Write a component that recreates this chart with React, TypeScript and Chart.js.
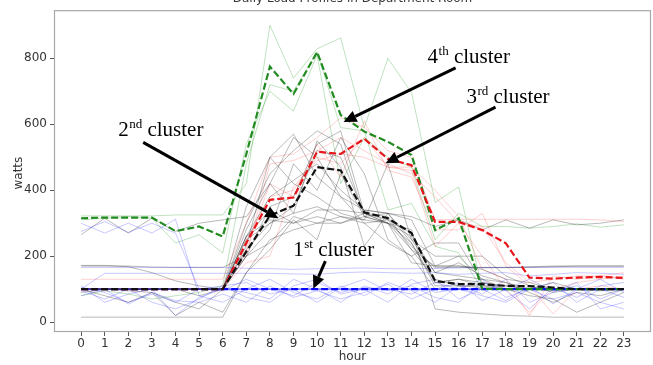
import React, { useEffect, useRef } from 'react';
import { Chart, registerables } from 'chart.js';

Chart.register(...registerables);

// ---------- data ----------
const hours = [0, 1, 2, 3, 4, 5, 6, 7, 8, 9, 10, 11, 12, 13, 14, 15, 16, 17, 18, 19, 20, 21, 22, 23];
const yTicks = [0, 200, 400, 600, 800];
const chartTitle = 'Daily Load Profiles in Department Room';
const xTitle = 'hour';
const yTitle = 'watts';

// cluster centroids (dashed)
const centroidBlue = [100, 100, 100, 100, 100, 100, 100, 100, 100, 100, 100, 100, 100, 100, 100, 100, 100, 100, 100, 100, 100, 100, 100, 100];
const centroidBlack = [100, 100, 100, 100, 100, 100, 100, 214, 323, 353, 470, 460, 333, 315, 270, 125, 115, 115, 110, 109, 105, 100, 100, 100];
const centroidRed = [100, 100, 100, 100, 100, 100, 100, 240, 371, 378, 517, 510, 556, 495, 476, 304, 304, 279, 239, 135, 132, 135, 137, 134];
const centroidGreen = [315, 317, 317, 317, 276, 290, 260, 510, 775, 692, 819, 628, 578, 547, 507, 279, 315, 101, 100, 100, 100, 100, 100, 100];

// cluster 1 members (blue)
const blue0 = [100, 100, 100, 100, 100, 100, 100, 100, 100, 100, 100, 100, 100, 100, 100, 100, 100, 100, 100, 100, 100, 100, 100, 100];
const blue1 = [105, 90, 60, 85, 60, 100, 95, 130, 100, 80, 120, 90, 105, 100, 85, 120, 100, 80, 60, 100, 70, 90, 60, 40];
const blue2 = [100, 148, 148, 148, 148, 148, 148, 148, 148, 146, 145, 150, 152, 150, 148, 150, 145, 148, 150, 140, 145, 150, 148, 145];
const blue3 = [166, 166, 166, 166, 166, 166, 166, 163, 162, 160, 162, 163, 164, 162, 162, 163, 165, 165, 166, 166, 166, 166, 166, 166];
const blue4 = [300, 270, 300, 270, 312, 80, 60, 100, 130, 90, 70, 110, 80, 120, 95, 60, 110, 85, 130, 60, 90, 120, 40, 60];
const blue5 = [275, 305, 272, 300, 270, 100, 110, 75, 60, 110, 130, 85, 100, 60, 115, 130, 70, 100, 65, 110, 55, 100, 130, 90];
const blue6 = [95, 70, 100, 60, 40, 70, 110, 120, 85, 100, 60, 105, 130, 95, 110, 75, 60, 120, 95, 40, 105, 75, 110, 120];
const blue7 = [80, 100, 55, 90, 65, 60, 85, 60, 110, 75, 95, 70, 90, 115, 70, 100, 120, 65, 100, 130, 95, 110, 70, 100];
const blue8 = [110, 60, 85, 100, 20, 75, 100, 90, 70, 130, 100, 60, 110, 85, 130, 90, 100, 130, 75, 100, 120, 60, 100, 75];

// cluster 2 members (grey)
const grey1 = [170, 170, 170, 167, 166, 166, 166, 200, 350, 380, 540, 580, 330, 310, 230, 165, 165, 166, 166, 166, 168, 170, 170, 170];
const grey2 = [15, 15, 15, 15, 15, 15, 15, 150, 250, 280, 300, 320, 310, 300, 280, 40, 30, 25, 20, 18, 15, 15, 15, 15];
const grey3 = [265, 315, 270, 315, 275, 300, 310, 320, 420, 560, 500, 380, 340, 330, 320, 290, 310, 280, 310, 285, 310, 295, 300, 310];
const grey4 = [100, 100, 100, 100, 100, 100, 100, 300, 450, 520, 580, 540, 320, 300, 240, 110, 110, 110, 100, 100, 100, 100, 100, 100];
const grey5 = [100, 100, 95, 90, 60, 40, 100, 220, 300, 330, 350, 320, 300, 310, 270, 120, 130, 120, 110, 100, 95, 100, 100, 100];
const grey6 = [100, 80, 60, 90, 20, 60, 30, 150, 220, 310, 250, 450, 320, 330, 250, 200, 200, 200, 140, 110, 90, 100, 95, 100];
const grey7 = [100, 100, 100, 100, 100, 100, 100, 350, 500, 420, 380, 330, 310, 480, 250, 150, 180, 140, 120, 90, 60, 90, 80, 100];
const grey8 = [100, 100, 100, 100, 100, 100, 100, 250, 300, 350, 520, 500, 330, 320, 220, 130, 110, 105, 100, 100, 100, 100, 100, 100];
const grey9 = [90, 100, 100, 100, 100, 100, 100, 200, 280, 480, 400, 560, 450, 250, 200, 100, 100, 100, 100, 100, 100, 100, 100, 100];
const grey10 = [100, 100, 100, 100, 100, 100, 100, 260, 380, 430, 480, 400, 340, 330, 240, 120, 130, 110, 110, 100, 100, 100, 100, 100];
const grey11 = [100, 100, 100, 100, 100, 100, 100, 280, 420, 330, 550, 470, 230, 330, 310, 170, 170, 160, 130, 120, 100, 100, 100, 100];
const grey12 = [100, 100, 100, 100, 100, 100, 100, 200, 240, 320, 300, 300, 320, 300, 180, 170, 200, 130, 100, 80, 70, 30, 60, 90];
const grey13 = [100, 100, 100, 100, 100, 80, 100, 260, 340, 300, 340, 340, 330, 300, 260, 150, 140, 130, 120, 100, 120, 100, 100, 100];
const grey14 = [100, 100, 100, 100, 100, 100, 100, 230, 500, 570, 440, 380, 300, 240, 200, 240, 240, 120, 100, 100, 100, 100, 100, 100];
const grey15 = [172, 172, 168, 150, 125, 110, 100, 260, 310, 300, 320, 300, 330, 300, 220, 170, 170, 165, 165, 168, 170, 170, 170, 170];

// cluster 3 members (red)
const red1 = [130, 130, 130, 130, 130, 130, 130, 300, 500, 510, 560, 620, 590, 520, 500, 310, 312, 312, 312, 312, 312, 312, 310, 305];
const red2 = [100, 100, 100, 100, 100, 100, 100, 200, 480, 490, 520, 560, 520, 480, 450, 380, 300, 200, 100, 30, 100, 120, 130, 140];
const red3 = [100, 100, 100, 100, 100, 100, 100, 250, 380, 400, 500, 480, 560, 470, 460, 230, 300, 290, 180, 120, 130, 140, 140, 130];
const red4 = [100, 100, 100, 100, 100, 100, 100, 180, 200, 410, 490, 510, 500, 470, 470, 400, 320, 160, 130, 20, 140, 130, 140, 150];
const red5 = [100, 100, 100, 100, 100, 100, 100, 220, 420, 380, 540, 440, 610, 460, 440, 280, 280, 330, 170, 110, 25, 100, 110, 100];

// cluster 4 members (green)
const green1 = [322, 322, 322, 322, 325, 325, 325, 420, 900, 740, 829, 862, 590, 800, 696, 363, 410, 100, 100, 100, 100, 100, 100, 100];
const green2 = [310, 315, 320, 315, 240, 265, 210, 540, 700, 640, 810, 420, 560, 500, 470, 250, 330, 290, 290, 285, 290, 298, 288, 295];
const green3 = [80, 95, 85, 70, 80, 90, 110, 480, 720, 700, 820, 590, 580, 340, 360, 230, 210, 100, 100, 100, 100, 100, 100, 100];

// annotations (data coordinates)
const annotationNumbers = ['4', '3', '2', '1'];
const annotationSuffixes = ['th', 'rd', 'nd', 'st'];
const annotationWord = ' cluster';
const annotationTextX = [14.68, 16.33, 1.57, 8.99];
const annotationTextY = [786, 664, 565, 199];
const arrowFromX = [15.87, 17.56, 2.63, 10.35];
const arrowFromY = [771, 652, 545, 185];
const arrowToX = [11.12, 12.9, 8.36, 9.84];
const arrowToY = [607, 482, 315, 101];

const X_MIN = -1.15;
const X_MAX = 24.15;
const Y_MIN = -30;
const Y_MAX = 946;

// ---------- helpers ----------
const toPoints = (arr: number[]) => hours.map((h, i) => ({ x: h, y: arr[i] }));

const thin = (arr: number[], color: string, width = 1) => ({
  data: toPoints(arr),
  borderColor: color,
  borderWidth: width,
  pointRadius: 0,
  tension: 0,
  fill: false,
  order: 10,
});

const dashed = (arr: number[], color: string, order: number) => ({
  data: toPoints(arr),
  borderColor: color,
  borderWidth: 2.2,
  borderDash: [7, 3],
  pointRadius: 0,
  tension: 0,
  fill: false,
  order,
});

const BLUE = 'rgba(0,0,255,0.22)';
const GREY = 'rgba(40,40,40,0.32)';
const RED = 'rgba(255,40,40,0.22)';
const GREEN = 'rgba(0,140,0,0.25)';

const framePlugin = {
  id: 'frameAndText',
  afterDraw(chart: any) {
    const { ctx, chartArea, scales } = chart;
    const { left, right, top, bottom } = chartArea;
    ctx.save();
    ctx.strokeStyle = '#a8a8a8';
    ctx.lineWidth = 1.2;
    ctx.strokeRect(left + 0.5, top + 0.5, right - left - 1, bottom - top - 1);

    ctx.fillStyle = '#333';
    ctx.font = '12px "DejaVu Sans"';
    ctx.textAlign = 'center';
    ctx.textBaseline = 'alphabetic';
    ctx.fillText(chartTitle, (left + right) / 2, 2);

    ctx.textBaseline = 'middle';
    ctx.fillText(xTitle, (left + right) / 2, 357);
    ctx.save();
    ctx.translate(19, (top + bottom) / 2 + 2);
    ctx.rotate(-Math.PI / 2);
    ctx.fillText(yTitle, 0, 0);
    ctx.restore();

    const xs = scales.x;
    const ys = scales.y;
    ctx.fillStyle = '#000';
    ctx.strokeStyle = '#000';
    for (let i = 0; i < annotationNumbers.length; i++) {
      const tx = xs.getPixelForValue(annotationTextX[i]);
      const ty = ys.getPixelForValue(annotationTextY[i]);
      ctx.textAlign = 'left';
      ctx.textBaseline = 'alphabetic';
      ctx.font = '21px "Liberation Serif"';
      ctx.fillText(annotationNumbers[i], tx, ty);
      let w = ctx.measureText(annotationNumbers[i]).width;
      ctx.font = '13px "Liberation Serif"';
      ctx.fillText(annotationSuffixes[i], tx + w + 0.5, ty - 8);
      w += ctx.measureText(annotationSuffixes[i]).width + 0.5;
      ctx.font = '21px "Liberation Serif"';
      ctx.fillText(annotationWord, tx + w, ty);

      const x1 = xs.getPixelForValue(arrowFromX[i]);
      const y1 = ys.getPixelForValue(arrowFromY[i]);
      const x2 = xs.getPixelForValue(arrowToX[i]);
      const y2 = ys.getPixelForValue(arrowToY[i]);
      const ang = Math.atan2(y2 - y1, x2 - x1);
      const headLen = 13;
      const headHalf = 6;
      const bx = x2 - headLen * Math.cos(ang);
      const by = y2 - headLen * Math.sin(ang);
      ctx.lineWidth = 3;
      ctx.beginPath();
      ctx.moveTo(x1, y1);
      ctx.lineTo(bx, by);
      ctx.stroke();
      ctx.beginPath();
      ctx.moveTo(x2, y2);
      ctx.lineTo(bx + headHalf * Math.sin(ang), by - headHalf * Math.cos(ang));
      ctx.lineTo(bx - headHalf * Math.sin(ang), by + headHalf * Math.cos(ang));
      ctx.closePath();
      ctx.fill();
    }
    ctx.restore();
  },
};

export default function App() {
  const canvasRef = useRef<HTMLCanvasElement | null>(null);

  useEffect(() => {
    if (!canvasRef.current) return;
    const datasets: any[] = [
      dashed(centroidBlack, '#111111', 0),
      dashed(centroidRed, '#e8141a', 1),
      dashed(centroidGreen, '#228b22', 2),
      dashed(centroidBlue, '#0a0aff', 3),
      { ...thin(blue0, 'rgba(40,40,255,0.55)', 1.6), order: 4 },
      ...[blue1, blue2, blue3, blue4, blue5, blue6, blue7, blue8].map((a) => thin(a, BLUE)),
      ...[grey1, grey2, grey3, grey4, grey5, grey6, grey7, grey8, grey9, grey10, grey11, grey12, grey13, grey14, grey15].map((a) => thin(a, GREY)),
      ...[red1, red2, red3, red4, red5].map((a) => thin(a, RED)),
      ...[green1, green2, green3].map((a) => thin(a, GREEN)),
    ];

    const chart = new Chart(canvasRef.current, {
      type: 'line',
      data: { datasets },
      options: {
        animation: false,
        responsive: false,
        devicePixelRatio: 1,
        layout: { padding: { top: 5, right: 2, left: 0, bottom: 0 } },
        plugins: {
          legend: { display: false },
          tooltip: { enabled: false },
          title: { display: false },
        },
        scales: {
          x: {
            type: 'linear',
            min: X_MIN,
            max: X_MAX,
            afterBuildTicks: (scale: any) => {
              scale.ticks = hours.map((h) => ({ value: h }));
            },
            afterFit: (scale: any) => {
              scale.height = 33;
            },
            ticks: {
              autoSkip: false,
              maxRotation: 0,
              padding: 1,
              color: '#333',
              font: { family: 'DejaVu Sans', size: 12 },
              callback: (v: any) => String(v),
            },
            grid: { display: true, drawOnChartArea: false, drawTicks: true, tickLength: 4, color: '#555' },
            border: { display: false },
          },
          y: {
            type: 'linear',
            min: Y_MIN,
            max: Y_MAX,
            afterBuildTicks: (scale: any) => {
              scale.ticks = yTicks.map((v) => ({ value: v }));
            },
            afterFit: (scale: any) => {
              scale.width = 54;
            },
            ticks: {
              padding: 3,
              color: '#333',
              font: { family: 'DejaVu Sans', size: 12 },
              callback: (v: any) => String(v),
            },
            grid: { display: true, drawOnChartArea: false, drawTicks: true, tickLength: 4, color: '#555' },
            border: { display: false },
          },
        },
      },
      plugins: [framePlugin],
    } as any);

    return () => chart.destroy();
  }, []);

  return (
    <div style={{ position: 'fixed', left: 0, top: 0, width: 653, height: 365, background: '#fff' }}>
      <canvas ref={canvasRef} width={653} height={365} style={{ display: 'block', width: 653, height: 365 }} />
    </div>
  );
}
